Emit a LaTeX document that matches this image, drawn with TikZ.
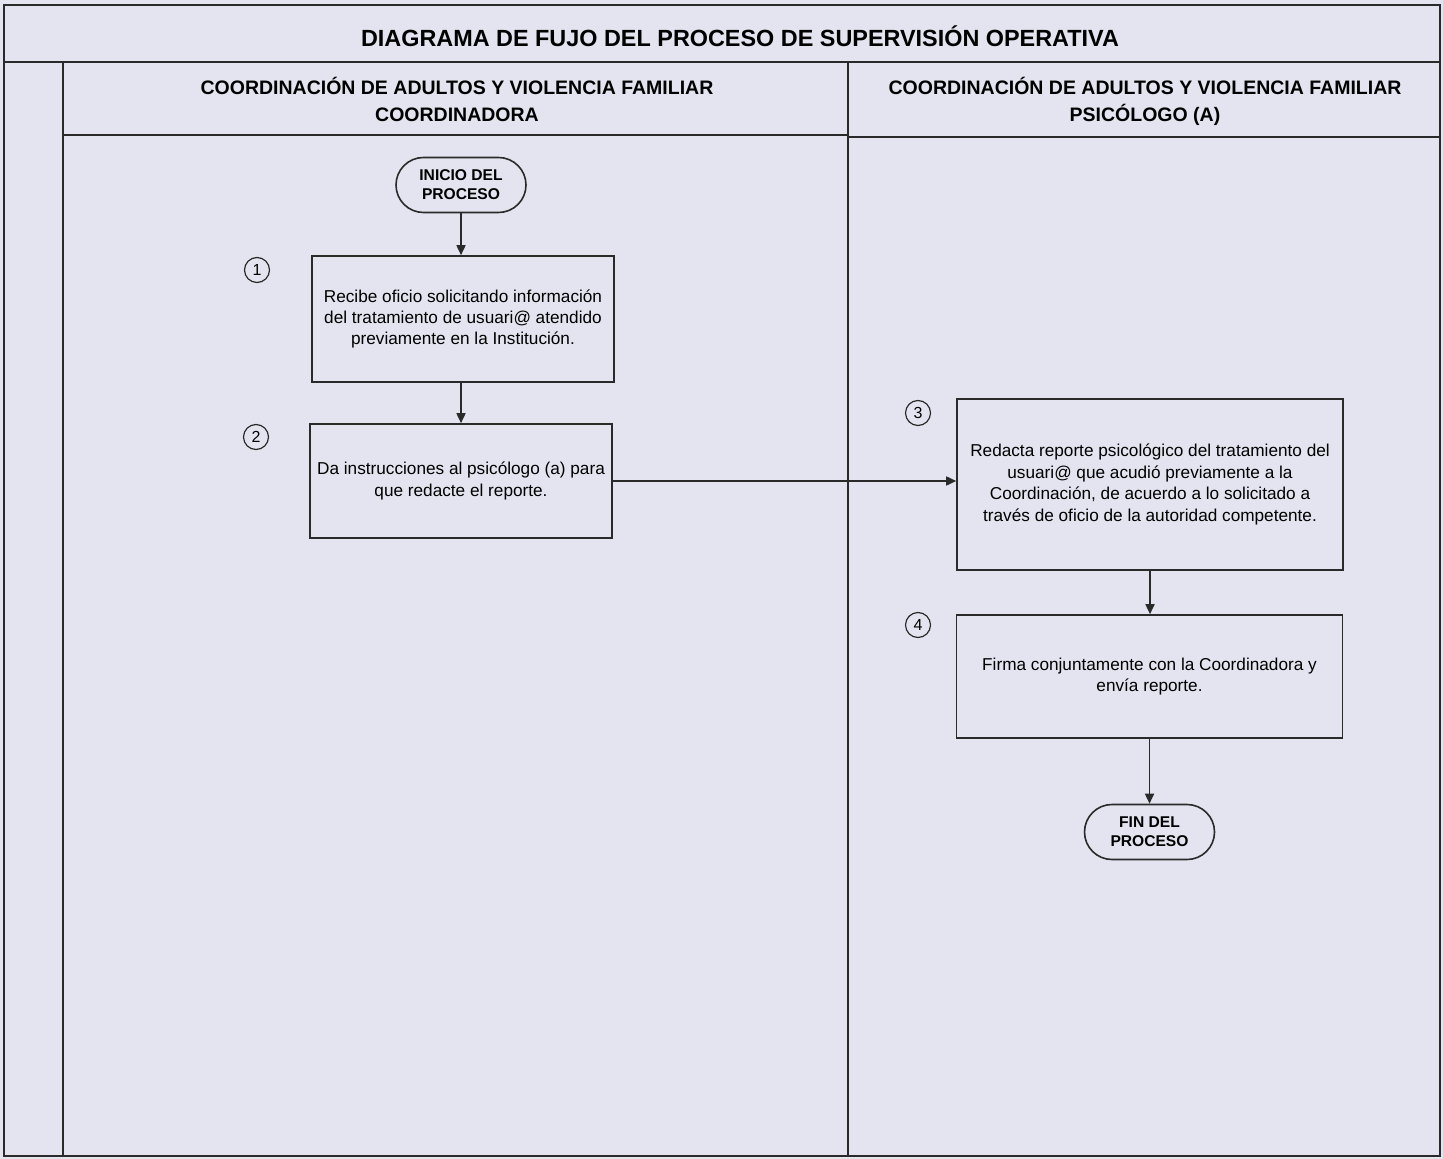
\documentclass[tikz,border=0pt]{standalone}
\usepackage{fontspec}
\setmainfont{Liberation Sans}
\usetikzlibrary{shapes.misc,arrows.meta}
\definecolor{bgc}{HTML}{E4E4F0}
\definecolor{ln}{HTML}{2A2A2A}
\tikzset{
  x=0.5pt, y=-0.5pt,
  frame/.style={draw=ln, line width=0.8pt},
  procbox/.style={draw=ln, line width=0.8pt, rectangle, align=center, font=\fontsize{8.6}{10.7}\selectfont, inner sep=0pt},
  term/.style={draw=ln, line width=0.8pt, rounded rectangle, align=center, font=\bfseries\fontsize{7.8}{9.6}\selectfont, minimum width=65pt, minimum height=27.5pt, inner sep=0pt},
  stepnum/.style={draw=ln, line width=0.6pt, circle, minimum size=12.5pt, inner sep=0pt, font=\fontsize{8}{9}\selectfont},
  flow/.style={draw=ln, line width=0.8pt, -{Triangle[length=5pt,width=4.5pt]}},
  hdr/.style={align=center, font=\bfseries\fontsize{9.75}{13.5}\selectfont},
}
\begin{document}
\begin{tikzpicture}
\fill[bgc] (0,0) rectangle (1443,1159);
\useasboundingbox (0,0) rectangle (1443,1159);
% frame and lanes
\draw[frame] (4,5) rectangle (1440,1156);
\draw[frame] (4,62) -- (1440,62);
\draw[frame] (63,62) -- (63,1156);
\draw[frame] (848,62) -- (848,1156);
\draw[frame] (63,135) -- (848,135);
\draw[frame] (848,137) -- (1440,137);
% titles
\node[font=\bfseries\fontsize{11.7}{13}\selectfont] (title) at (740,36) {DIAGRAMA DE FUJO DEL PROCESO DE SUPERVISIÓN OPERATIVA};
\node[hdr] (lane1) at (457,99) {COORDINACIÓN DE ADULTOS Y VIOLENCIA FAMILIAR\\COORDINADORA};
\node[hdr] (lane2) at (1145,101) {COORDINACIÓN DE ADULTOS Y VIOLENCIA FAMILIAR\\PSICÓLOGO (A)};
% nodes
\node[term] (start) at (461,185) {INICIO DEL\\PROCESO};
\node[procbox, minimum width=151pt, minimum height=63pt] (b1) at (463,319) {Recibe oficio solicitando información\\del tratamiento de usuari@ atendido\\previamente en la Institución.};
\node[procbox, minimum width=151pt, minimum height=57pt] (b2) at (461,481) {Da instrucciones al psicólogo (a) para\\que redacte el reporte.};
\node[procbox, minimum width=193pt, minimum height=85.5pt] (b3) at (1150,484.5) {Redacta reporte psicológico del tratamiento del\\usuari@ que acudió previamente a la\\Coordinación, de acuerdo a lo solicitado a\\través de oficio de la autoridad competente.};
\node[procbox, minimum width=193pt, minimum height=61.5pt] (b4) at (1149.5,676.5) {Firma conjuntamente con la Coordinadora y\\envía reporte.};
\node[term] (end) at (1149.5,832) {FIN DEL\\PROCESO};
% step numbers
\node[stepnum] (n1) at (257,270) {1};
\node[stepnum] (n2) at (256,437) {2};
\node[stepnum] (n3) at (918,413) {3};
\node[stepnum] (n4) at (918,625) {4};
% connectors
\draw[flow] (start.south) -- (start.south |- b1.north);
\draw[flow] (b1.south -| start.south) -- (start.south |- b2.north);
\draw[flow] (b2.east) -- (b3.west |- b2.east);
\draw[flow] (b3.south) -- (b3.south |- b4.north);
\draw[flow] (b4.south) -- (end.north);
\end{tikzpicture}
\end{document}
